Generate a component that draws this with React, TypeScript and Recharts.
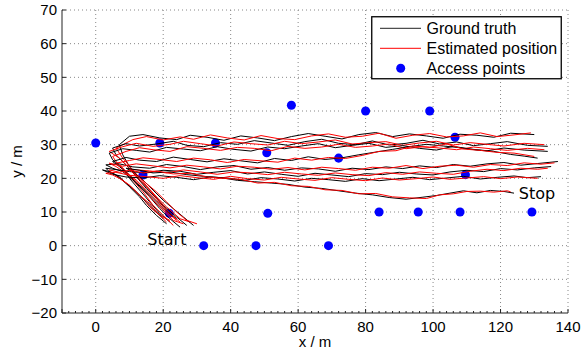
import { CartesianGrid, ReferenceDot, Scatter, ScatterChart, XAxis, YAxis } from "recharts";

type Pt = [number, number];

const xMajorTicks = [-10, 0, 20, 40, 60, 80, 100, 120, 140];
const xMinorStep = 2;
const yTicks = [-20, -10, 0, 10, 20, 30, 40, 50, 60, 70];

const accessPoints: Pt[] = [
  [0, 30.5], [19, 30.5], [35.5, 30.5], [58, 41.7], [80, 40], [99, 40], [106.5, 32.2],
  [50.7, 27.6], [72, 26], [14, 21], [109.6, 21.1], [21.8, 9.6], [51, 9.6], [84, 10],
  [95.6, 10], [108, 10], [129.3, 10], [32, 0], [47.5, 0], [69, 0]
];

// walks: start bottom-left, up to the turn, then east
const gt1: Pt[] = [[27,6],[24,8.5],[20,12],[17,15.5],[13,19.5],[10,23.5],[8,27],[7,30],[10,32.5],[14,33],[19,32],[24,31.5],[28,32.8],[33,32.2],[38,31.3],[43,32.6],[48,32],[53,31.2],[58,32.4],[63,33.3],[68,32.5],[73,31.7],[78,33],[83,33.6],[88,32.4],[93,33.2],[98,32.6],[103,31.9],[108,33.1],[113,32.8],[118,32.2],[123,33.4],[130,33]];
const est1: Pt[] = [[28,7],[25,8],[21,11.5],[18,14.5],[14,19],[11,22.5],[8,26],[6,29],[11,31.5],[15,32.4],[20,31.4],[25,32.3],[29,31.6],[34,32.9],[39,32],[44,31.4],[49,32.7],[54,31.8],[59,31.5],[64,32.6],[69,33.2],[74,32.2],[79,32.5],[84,33.4],[89,31.9],[94,32.8],[99,33.3],[104,32.3],[109,32.6],[114,33.5],[119,32.4],[124,32.9],[129,33.5]];
const gt2: Pt[] = [[24,8],[21,10.5],[18,14],[15,17],[12,20.5],[9,24],[6,27],[5,29],[9,30.3],[13,29.6],[18,30.2],[23,31],[27,29.8],[32,29.4],[37,30.6],[42,30.1],[47,31.2],[52,30.5],[57,29.8],[62,30.9],[67,31.6],[72,30.4],[77,30],[82,31.1],[87,29.9],[92,30.4],[97,31.3],[102,30.2],[107,30.8],[112,29.7],[117,30.3],[122,30.9],[128,29.8],[134,29.5]];
const est2: Pt[] = [[25,7],[22,9.5],[19,13],[16,16.5],[13,19.5],[10,23],[7,26],[4,28],[8,29.4],[12,30.4],[17,29.5],[22,30.1],[26,31],[31,30.3],[36,29.6],[41,30.8],[46,30.3],[51,29.9],[56,31],[61,30.3],[66,30.8],[71,31.4],[76,30.2],[81,30.6],[86,30.9],[91,29.8],[96,30.5],[101,31],[106,29.9],[111,30.6],[116,30.1],[121,29.6],[127,30.4],[133,30]];
const gt3: Pt[] = [[22,7],[19,9.5],[16,13],[13,16.5],[10,20],[8,23],[5,25.5],[4,27.5],[8,28.8],[12,28.3],[16,27.8],[21,29.2],[26,28.7],[31,28.2],[36,29.4],[41,28.6],[46,28.1],[51,29.3],[56,28.8],[61,29.6],[66,30.3],[71,29.1],[76,29.8],[81,30.4],[86,29.2],[91,29.7],[96,28.9],[101,28.4],[106,29.5],[111,28.7],[116,28.2],[121,29],[127,28.4],[134,28]];
const est3: Pt[] = [[23,6],[20,9],[17,12],[14,16],[11,19.5],[9,22],[6,25],[5,26.5],[9,28],[13,29.1],[17,28.5],[22,28],[27,29.4],[32,28.9],[37,28.3],[42,29.2],[47,28.9],[52,28.2],[57,29.5],[62,28.9],[67,29.3],[72,30.1],[77,29.2],[82,29.6],[87,30.2],[92,28.8],[97,29.4],[102,29],[107,28.5],[112,29.3],[117,28.8],[122,28.3],[128,28.9],[133,28.5]];
const gt4: Pt[] = [[25,5.5],[22,8],[19,11],[16,14.5],[13,17.5],[10,21],[7,23.5],[5,25],[9,26.2],[13,25.4],[18,25],[23,26.3],[28,25.6],[33,24.9],[38,25.8],[43,25.2],[48,24.6],[53,25.9],[58,25.3],[63,26.4],[68,25.6],[73,26.1],[78,27],[83,27.8],[88,28.6],[93,29.4],[98,30.1],[103,29.6],[108,29.1],[113,28.4],[118,28],[123,27.1],[127,26.6],[131,26]];
const est4: Pt[] = [[26,6.5],[23,7.5],[20,10.5],[17,13.5],[14,17],[11,20],[8,23],[6,24.5],[10,25.3],[14,26.1],[19,25.6],[24,25],[29,26],[34,25.5],[39,24.7],[44,25.6],[49,25.2],[54,24.8],[59,26],[64,25.4],[69,26.2],[74,25.9],[79,26.8],[84,28],[89,28.2],[94,29.6],[99,29.2],[104,30.2],[109,28.7],[114,28.3],[119,27.7],[124,27.5],[130,26.5]];
const gt5: Pt[] = [[23,8.5],[20,11],[17,14],[14,17],[11,19.5],[8,22],[5,23],[3,24],[7,24.3],[11,23.4],[16,23],[21,24.1],[26,23.5],[31,22.6],[36,23.4],[41,23.8],[46,22.7],[51,23.2],[56,22.4],[61,23.1],[66,22.8],[71,22.1],[76,23],[81,22.6],[86,23.4],[91,22.9],[96,23.7],[101,23.2],[106,24.1],[111,23.6],[116,24.3],[121,24.7],[126,23.9],[131,24.4],[137,25]];
const est5: Pt[] = [[24,7.5],[21,10],[18,13.5],[15,16.5],[12,19.5],[9,21.5],[6,23.5],[4,24.5],[8,23.6],[12,24.3],[17,23.7],[22,23.1],[27,23.9],[32,23.4],[37,22.8],[42,23.6],[47,23.3],[52,22.7],[57,23.2],[62,22.5],[67,23.3],[72,22.9],[77,22.4],[82,23.3],[87,23],[92,23.8],[97,22.9],[102,23.6],[107,23.9],[112,23.3],[117,24.1],[122,23.8],[127,24.6],[132,24.2],[136,24.6]];
const gt6: Pt[] = [[21,6.5],[18,9],[15,12],[13,14.5],[10,17.5],[7,20.5],[4,22],[3,23],[6,22.6],[10,22],[15,21.6],[20,22.4],[25,22.1],[30,21.2],[35,21.8],[40,22.3],[45,21.3],[50,21.9],[55,21.2],[60,20.6],[65,21.5],[70,21],[75,20.5],[80,21.4],[85,21.1],[90,21.8],[95,21.3],[100,21],[105,21.9],[110,22.4],[115,22],[120,22.9],[125,22.5],[130,23.1],[135,23.5]];
const est6: Pt[] = [[22,7.5],[19,9],[16,11.5],[14,14],[11,17],[8,19.5],[5,21.5],[4,22.5],[7,21.8],[11,22.6],[16,22.2],[21,21.6],[26,22.5],[31,21.9],[36,21.2],[41,21.9],[46,21.6],[51,21.1],[56,21.8],[61,21.3],[66,20.9],[71,21.6],[76,21.1],[81,20.8],[86,21.7],[91,21.2],[96,21.9],[101,21.5],[106,21.2],[111,22.1],[116,22.7],[121,22.3],[126,23],[131,22.7],[134,23]];
const gt7: Pt[] = [[20,8],[17,11],[15,13],[12,16],[9,18.5],[6,21],[4,22],[2,22.5],[5,21.2],[9,20.4],[14,20.1],[19,20.8],[24,20.3],[29,19.6],[34,20.4],[39,20.1],[44,19.4],[49,20.2],[54,19.8],[59,19.2],[64,20],[69,19.6],[74,19.1],[79,19.9],[84,19.3],[89,19.8],[94,20.3],[99,19.6],[104,20.1],[109,20.6],[114,19.8],[119,20.3],[124,20.7],[128,20.2],[132,20.5]];
const est7: Pt[] = [[21,7],[18,10],[16,12.5],[13,15],[10,18],[7,20],[5,21],[3,21.5],[6,21.8],[10,20.9],[15,20.5],[20,20],[25,20.8],[30,20.2],[35,19.7],[40,20.6],[45,19.9],[50,19.5],[55,20.3],[60,19.8],[65,19.4],[70,20.2],[75,19.7],[80,19.3],[85,20.1],[90,19.5],[95,19.9],[100,20.4],[105,19.7],[110,20.1],[115,20.5],[120,19.9],[125,20.4],[131,20]];
const gt8: Pt[] = [[29,6],[26,8.5],[23,11],[20,13.5],[17,16.5],[14,19.5],[11,22],[9,23],[13,22.4],[17,21.6],[22,21.9],[27,21.1],[32,20.6],[37,20.2],[42,19.4],[47,19],[52,18.6],[57,18.2],[62,17.4],[67,17],[72,16.3],[77,15.6],[82,15.1],[87,14.3],[92,13.8],[97,14.4],[101,14.9],[105,15.6],[109,16.3],[113,15.7],[117,16.4],[121,16.1],[124,15.6]];
const est8: Pt[] = [[30,6.5],[27,7.5],[24,10],[21,13],[18,16],[15,18.5],[12,21],[10,22.5],[14,21.6],[18,22.2],[23,21.3],[28,21.5],[33,20.4],[38,20],[43,19.7],[48,18.6],[53,18.8],[58,17.8],[63,17.6],[68,16.6],[73,16.4],[78,15.4],[83,15.5],[88,14.5],[93,14.2],[98,14],[102,15.1],[106,15.4],[110,16.1],[114,16.2],[118,15.9],[122,16.3],[123,16]];

const groundTruth = [gt1, gt2, gt3, gt4, gt5, gt6, gt7, gt8];
const estimated = [est1, est2, est3, est4, est5, est6, est7, est8];

const annotations = [
  { text: "Start", x: 15.3, y: 0.2 },
  { text: "Stop", x: 125.4, y: 14 }
];

const toXY = (pts: Pt[]) => pts.map(([x, y]) => ({ x, y }));

const xTicks: number[] = [];
for (let v = xMajorTicks[0]; v <= xMajorTicks[xMajorTicks.length - 1]; v += xMinorStep) xTicks.push(v);

const axisFont = "'Liberation Sans', Arial, sans-serif";
const noShape = () => <g />;

function XTick({ x, y, payload }: any) {
  const major = xMajorTicks.includes(payload.value);
  return (
    <g>
      <line x1={x} x2={x} y1={y} y2={y - (major ? 4 : 2)} stroke="#222" />
      {major && payload.value !== -10 ? (
        <text x={x} y={y + 19} textAnchor="middle" fontSize={15} fontFamily={axisFont} fill="#000">
          {payload.value}
        </text>
      ) : null}
    </g>
  );
}

function YTick({ x, y, payload }: any) {
  return (
    <g>
      <line x1={x} x2={x + 4} y1={y} y2={y} stroke="#222" />
      <text x={x - 5} y={y + 5.3} textAnchor="end" fontSize={15} fontFamily={axisFont} fill="#000">
        {payload.value < 0 ? `\u2212${Math.abs(payload.value)}` : payload.value}
      </text>
    </g>
  );
}

function XLabel({ viewBox }: any) {
  return (
    <text x={viewBox.x + viewBox.width / 2} y={347} textAnchor="middle" fontSize={15} fontFamily={axisFont} fill="#000">
      x / m
    </text>
  );
}

function AnnotationLabel({ viewBox, value }: any) {
  return (
    <text x={viewBox.x} y={viewBox.y} fontSize={16} fontFamily="'DejaVu Sans', sans-serif" fill="#000">
      {value}
    </text>
  );
}

function LegendBox() {
  return (
    <svg width={192} height={65} style={{ position: "absolute", left: 371, top: 16 }}>
      <rect x={0.75} y={0.75} width={189.5} height={62} fill="#fff" stroke="#000" strokeWidth={1.3} />
      <line x1={9} x2={50} y1={12.3} y2={12.3} stroke="#222" strokeWidth={1} />
      <text x={55.5} y={18} fontSize={16} fontFamily={axisFont}>Ground truth</text>
      <line x1={9} x2={50} y1={32.3} y2={32.3} stroke="#ff0000" strokeWidth={1} />
      <text x={55.5} y={38} fontSize={16} fontFamily={axisFont}>Estimated position</text>
      <circle cx={29.7} cy={52.3} r={4.5} fill="#0000ff" />
      <text x={55.5} y={58} fontSize={16} fontFamily={axisFont}>Access points</text>
    </svg>
  );
}

export default function App() {
  return (
    <div style={{ position: "absolute", left: 0, top: 0, width: 582, height: 360, background: "#fff" }}>
      <ScatterChart width={582} height={360} margin={{ top: 10, right: 14, bottom: 0, left: 0 }}>
        <CartesianGrid
          stroke="#888"
          strokeDasharray="1 3"
          verticalValues={xMajorTicks.filter((v) => v > -10)}
          horizontalValues={yTicks.filter((v) => v > -20)}
        />
        <XAxis
          type="number"
          dataKey="x"
          domain={[-10, 140]}
          ticks={xTicks}
          interval={0}
          tickSize={0}
          tickMargin={0}
          height={47}
          stroke="#222"
          tick={<XTick />}
          label={<XLabel />}
        />
        <YAxis
          type="number"
          dataKey="y"
          domain={[-20, 70]}
          ticks={yTicks}
          interval={0}
          tickSize={0}
          tickMargin={0}
          width={62}
          stroke="#222"
          tick={<YTick />}
          label={{ value: "y / m", angle: -90, position: "insideLeft", offset: 17, textAnchor: "middle", fontSize: 15, fontFamily: axisFont, fill: "#000" }}
        />
        <Scatter data={toXY(accessPoints)} fill="#0000ff" isAnimationActive={false} />
        {groundTruth.map((path, i) => [
          <Scatter
            key={`gt${i}`}
            data={toXY(path)}
            line={{ stroke: "#000", strokeWidth: 1 }}
            shape={noShape}
            isAnimationActive={false}
          />,
          <Scatter
            key={`est${i}`}
            data={toXY(estimated[i])}
            line={{ stroke: "#ff0000", strokeWidth: 1 }}
            shape={noShape}
            isAnimationActive={false}
          />
        ])}
        {annotations.map((a) => (
          <ReferenceDot key={a.text} x={a.x} y={a.y} r={0} stroke="none" label={<AnnotationLabel value={a.text} />} />
        ))}
      </ScatterChart>
      <LegendBox />
    </div>
  );
}
